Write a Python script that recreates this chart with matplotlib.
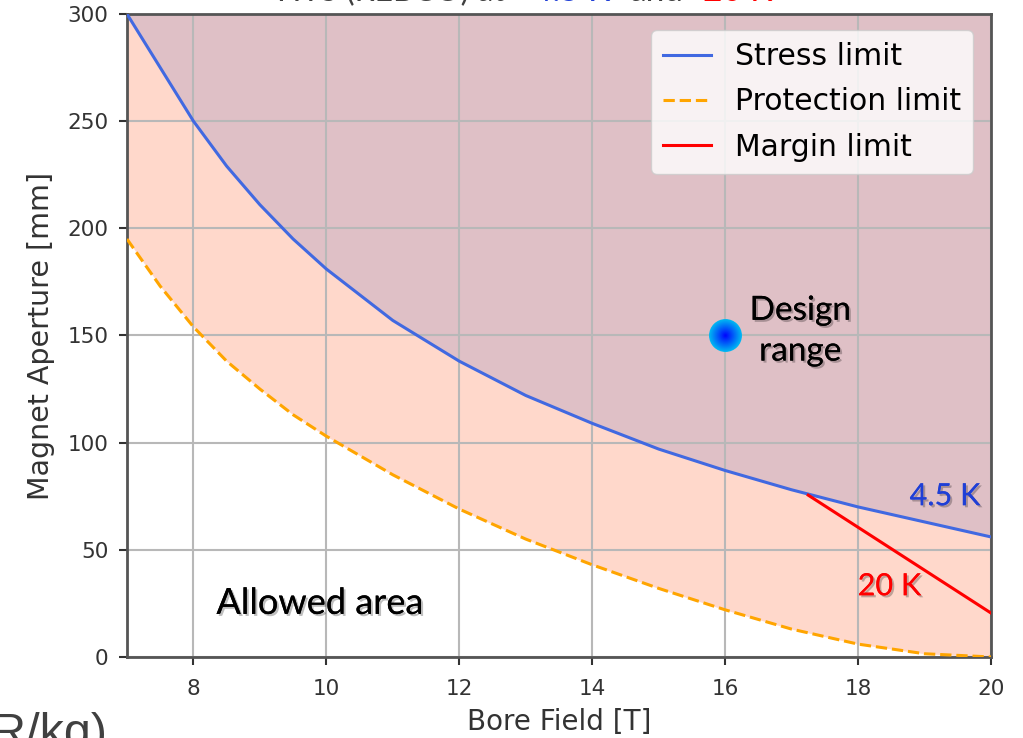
import matplotlib
matplotlib.use("Agg")
import matplotlib.pyplot as plt
import matplotlib.patheffects as pe
import numpy as np

# bore field [T] vs. magnet aperture [mm] limits
field = [7, 7.5, 8, 8.5, 9, 9.5, 10, 11, 12, 13, 14, 15, 16, 17, 18, 19, 20]
stress_limit = [300, 275, 250, 229, 211, 195, 181, 157, 138, 122, 109, 97, 87, 78, 70, 63, 56]
protection_limit = [195, 173, 154, 138, 125, 113, 103, 85, 69, 55, 43, 32, 22, 13, 6, 1.5, 0]
margin_field = [17.25, 20]
margin_limit = [75.5, 20.5]
design_point = (16, 150)

xticks = [8, 10, 12, 14, 16, 18, 20]
yticks = [0, 50, 100, 150, 200, 250, 300]

slide_font = ["Lato", "DejaVu Sans"]
shadow = [pe.withSimplePatchShadow(offset=(1.5, -1.5), shadow_rgbFace="k", alpha=0.25), pe.Normal()]

fig = plt.figure(figsize=(10.23, 7.38), dpi=100)
ax = fig.add_axes([0.1241, 0.1098, 0.8446, 0.8713])

# shaded regions
ax.fill_between(field, stress_limit, 300, color="#dfc0c6", lw=0, zorder=1)
ax.fill_between(field, protection_limit, stress_limit, color="#ffd8cb", lw=0, zorder=1)

ax.plot(field, stress_limit, color="#4169e1", lw=2.2, label="Stress limit", zorder=3)
ax.plot(field, protection_limit, color="orange", lw=2.2, ls="--", label="Protection limit", zorder=3)
ax.plot(margin_field, margin_limit, color="red", lw=2.2, label="Margin limit", zorder=3)

# design point, drawn as a blue-to-cyan radial blob
c_in = np.array([0.0, 0.0, 1.0])
c_out = np.array([0.0, 0.72, 0.95])
for f in np.linspace(1, 0.05, 25):
    ax.scatter(*design_point, s=560 * f ** 2, color=c_in + (c_out - c_in) * f, lw=0, zorder=4)

ax.text(17.13, 152, "Design\nrange", ha="center", va="center", fontsize=24,
        family=slide_font, linespacing=1.45, path_effects=shadow, zorder=5)
ax.text(9.9, 25, "Allowed area", ha="center", va="center", fontsize=26,
        family=slide_font, path_effects=shadow, zorder=5)
ax.text(19.84, 75, "4.5 K", ha="right", va="center", fontsize=22, color="#1f3fd6",
        family=slide_font, path_effects=shadow, zorder=5)
ax.text(18.47, 33, "20 K", ha="center", va="center", fontsize=22, color="red",
        family=slide_font, path_effects=shadow, zorder=5)

ax.set_xlim(7, 20)
ax.set_ylim(0, 300)
ax.set_xticks(xticks)
ax.set_yticks(yticks)
ax.tick_params(labelsize=15.5, colors="#333333", length=6, width=1.5)
ax.tick_params(axis="x", pad=10)
ax.tick_params(axis="y", pad=7.5)
ax.grid(True, color="#b8b8b8", lw=1.5)
for s in ax.spines.values():
    s.set_color("#555555")
    s.set_linewidth(2)
ax.set_xlabel("Bore Field [T]", fontsize=20, color="#333333", labelpad=6)
ax.set_ylabel("Magnet Aperture [mm]", fontsize=20.5, color="#333333", labelpad=9)

ax.legend(loc="upper right", fontsize=21.5, handlelength=1.6, labelspacing=0.55,
          borderpad=0.4, borderaxespad=0, framealpha=0.8, bbox_to_anchor=(0.979, 0.975))

# title runs off the top edge
ty = 0.9985
fig.text(277 / 1023, ty, "HTS (REBCO) at", fontsize=23, color="#404040", family=slide_font, va="baseline")
fig.text(533 / 1023, ty, "4.5 K", fontsize=24, color="#1f3fd6", family=slide_font, va="baseline")
fig.text(630 / 1023, ty, "and", fontsize=24, color="#404040", family=slide_font, va="baseline")
fig.text(703 / 1023, ty, "20 K", fontsize=24, color="red", family=slide_font, va="baseline")

fig.text(107 / 1023, -0.012, "R/kg)", ha="right", va="baseline", fontsize=35,
         color="#404040", family=["Liberation Sans"])

fig.savefig("out.png", dpi=100)
